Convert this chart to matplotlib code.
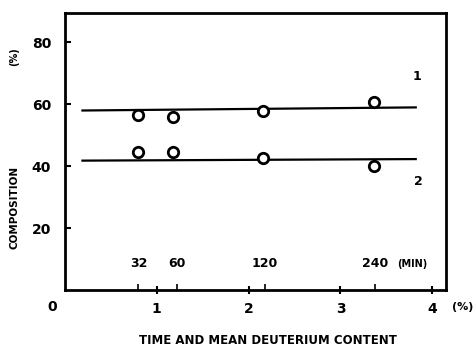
import matplotlib
matplotlib.use('Agg')
import matplotlib.pyplot as plt

# data
x_pts = [0.80, 1.18, 2.16, 3.36]
comp1 = [56.7, 56.0, 57.7, 60.6]
comp2 = [44.5, 44.5, 42.6, 40.0]
fit_x = [0.19, 3.82]
fit1 = [58.0, 59.0]
fit2 = [41.8, 42.3]
min_pos = [0.80, 1.22, 2.18, 3.38]
min_labels = ['32', '60', '120', '240']
x_ticks = [1, 2, 3, 4]
y_ticks = [20, 40, 60, 80]

plt.rcParams['font.family'] = 'DejaVu Sans'
plt.rcParams['font.weight'] = 'bold'

fig = plt.figure(figsize=(4.73, 3.48), dpi=100)
ax = fig.add_axes([0.1374, 0.1667, 0.943 - 0.1374, 0.9626 - 0.1667])

ax.plot(fit_x, fit1, color='black', lw=1.6)
ax.plot(fit_x, fit2, color='black', lw=1.6)
ax.plot(x_pts, comp1, 'o', mfc='white', mec='black', ms=7.5, mew=2)
ax.plot(x_pts, comp2, 'o', mfc='white', mec='black', ms=7.5, mew=2)

ax.set_xlim(0, 4.15)
ax.set_ylim(0, 89.5)
for s in ax.spines.values():
    s.set_linewidth(2)

ax.set_xticks(x_ticks)
ax.set_xticklabels([str(t) for t in x_ticks], fontsize=10, fontweight='bold')
ax.set_yticks(y_ticks)
ax.set_yticklabels([str(t) for t in y_ticks], fontsize=10, fontweight='bold')
ax.tick_params(axis='x', direction='inout', length=6, width=1.5, pad=6)
ax.tick_params(axis='y', direction='in', length=4, width=1.5, pad=10)

# minute ticks and labels inside the plot
ax.set_xticks(min_pos, minor=True)
ax.tick_params(axis='x', which='minor', direction='in', length=4, width=1.2)
for p, lab in zip(min_pos, min_labels):
    ax.text(p, 8.5, lab, ha='center', va='center', fontsize=9, fontweight='bold')
ax.text(3.62, 8.5, '(MIN)', ha='left', va='center', fontsize=7, fontweight='bold')

ax.text(3.83, 69, '1', ha='center', va='center', fontsize=9, fontweight='bold')
ax.text(3.85, 35, '2', ha='center', va='center', fontsize=9, fontweight='bold')

fig.text(52 / 473, 1 - 307 / 348, '0', ha='center', va='center', fontsize=10, fontweight='bold')
fig.text(463 / 473, 1 - 307 / 348, '(%)', ha='center', va='center', fontsize=8, fontweight='bold')
fig.text(268 / 473, 1 - 340 / 348, 'TIME AND MEAN DEUTERIUM CONTENT', ha='center', va='center',
         fontsize=8.5, fontweight='bold')
fig.text(14 / 473, 1 - 207 / 348, 'COMPOSITION', ha='center', va='center', rotation=90,
         fontsize=7.5, fontweight='bold')
fig.text(14 / 473, 1 - 57 / 348, '(%)', ha='center', va='center', rotation=90,
         fontsize=7, fontweight='bold')

fig.savefig('out.png', dpi=100)
